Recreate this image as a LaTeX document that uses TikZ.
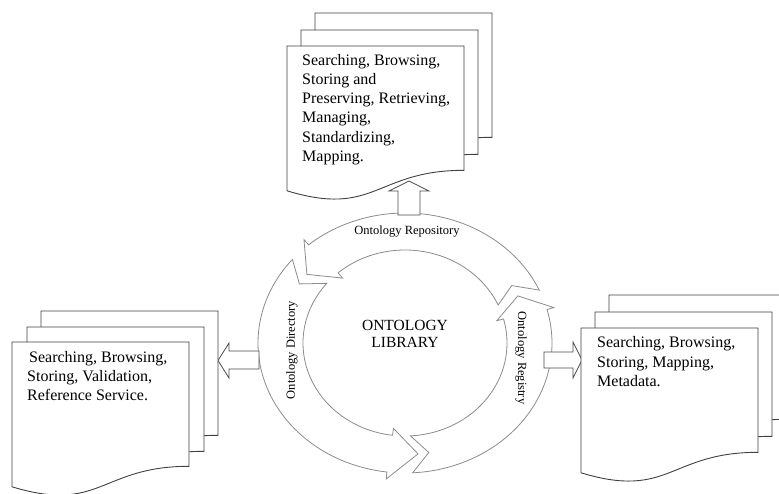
\documentclass[tikz,border=0pt]{standalone}
\usepackage{fontspec}
\setmainfont{Liberation Serif}
\usetikzlibrary{calc}
\newcommand\ringarrowpath[4]{%
  \draw[ringarrow]
    plot[domain=0:1, samples=60, variable=\t] ({405+147*cos(#1+(#3-#1)*\t)},{343-130*sin(#1+(#3-#1)*\t)})
    -- ({405+154*cos(#3)},{343-137*sin(#3)})
    -- ({405+124.5*cos(#4)},{343-111.5*sin(#4)})
    -- ({405+95*cos(#3)},{343-86*sin(#3)})
    -- plot[domain=0:1, samples=60, variable=\t] ({405+102*cos(#3+(#1-#3)*\t)},{343-93*sin(#3+(#1-#3)*\t)})
    -- ({405+124.5*cos(#2)},{343-111.5*sin(#2)}) -- cycle;}
\newcommand\docpage[2]{%
  \draw[docpage] (#1,#2) -- ++(177,0) -- ++(0,124.3)
    .. controls ++(-88.5,0) and ($(#1,#2)+(88.5,171.7)$) .. ($(#1,#2)+(0,144.8)$) -- cycle;}
\begin{document}
\begin{tikzpicture}[x=1pt,y=-1pt,
  docpage/.style={draw=black!75, line width=0.9pt, fill=white},
  ringarrow/.style={draw=black!45, line width=0.8pt, fill=white, line join=miter},
  blockarrow/.style={draw=black!70, line width=0.8pt, fill=white},
  doctext/.style={font=\fontsize{16}{19.2}\selectfont, align=left, anchor=north west, inner sep=0pt},
  ringlabel/.style={font=\fontsize{12.5}{15}\selectfont, inner sep=0pt},
  libtext/.style={font=\fontsize{15.5}{17}\selectfont, align=center, inner sep=0pt}]
\useasboundingbox (0,0) rectangle (779,493);
\clip (0,0) rectangle (779,493);
% ring of three arrows
\ringarrowpath{24}{31}{131}{142}
\ringarrowpath{140}{148}{263}{276}
\ringarrowpath{273}{281}{375}{385}
% block arrows
\draw[blockarrow] (398,215) -- (398,191) -- (389,191) -- (409,181) -- (429,191) -- (420,191) -- (420,215) -- cycle;
\draw[blockarrow] (259,351) -- (229,351) -- (229,343) -- (218,360.5) -- (229,378) -- (229,369) -- (259,369) -- cycle;
\draw[blockarrow] (544,352) -- (573,352) -- (573,342) -- (582,360) -- (573,378) -- (573,368) -- (544,368) -- cycle;
% document stacks
\docpage{315}{13}\docpage{301}{30}\docpage{287}{46}
\docpage{41}{311}\docpage{27}{327}\docpage{12}{342}
\docpage{609}{295}\docpage{595}{312}\docpage{581}{328}
% texts
\node[doctext] (toptext) at (302,54) {Searching, Browsing,\\Storing and\\Preserving, Retrieving,\\Managing,\\Standardizing,\\Mapping.};
\node[doctext] (lefttext) at (27,351) {\hspace*{2pt}Searching, Browsing,\\Storing, Validation,\\Reference Service.};
\node[doctext] (righttext) at (597,336.5) {Searching, Browsing,\\Storing, Mapping,\\Metadata.};
\node[libtext] (lib) at (405,334) {ONTOLOGY\\LIBRARY};
\node[ringlabel] (repo) at (407,232) {Ontology Repository};
\node[ringlabel, rotate=90] (dir) at (292,350) {Ontology Directory};
\node[ringlabel, rotate=-90] (reg) at (521,358) {Ontology Registry};
\end{tikzpicture}
\end{document}
